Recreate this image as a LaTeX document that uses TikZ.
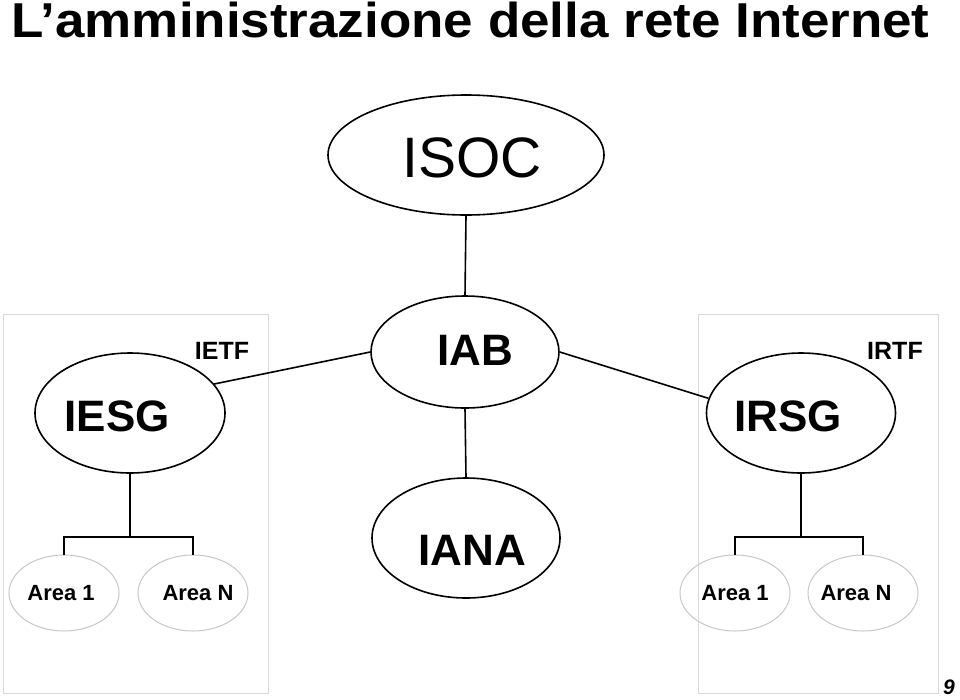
\documentclass[tikz,border=0pt]{standalone}
\usepackage{fontspec}
\setmainfont{Liberation Sans}
\usetikzlibrary{shapes.geometric}
\begin{document}
\begin{tikzpicture}[x=1pt,y=-1pt,
  bigell/.style={ellipse,draw=black,line width=1.6pt,inner sep=0pt},
  smallell/.style={ellipse,draw=black!22,line width=1pt,inner sep=0pt,minimum width=110pt,minimum height=76pt},
  conn/.style={line width=1.6pt,draw=black},
  grpbox/.style={draw=black!15,line width=1pt},
  bigtxt/.style={font=\fontsize{44}{44}\selectfont\bfseries,inner sep=0pt},
  areatxt/.style={font=\fontsize{22}{22}\selectfont\bfseries,inner sep=0pt},
  grptxt/.style={font=\fontsize{25}{25}\selectfont\bfseries,inner sep=0pt}]
\useasboundingbox (0,0) rectangle (960,699);
% title
\node[anchor=base west,inner sep=0pt,font=\fontsize{49}{49}\selectfont\bfseries] (title) at (11,37) {\scalebox{1.081}[1]{L’amministrazione della rete Internet}};
% group boxes
\draw[grpbox] (3,314) rectangle (268,693);
\draw[grpbox] (698,314) rectangle (938,693);
% main ellipses
\node[bigell,minimum width=276pt,minimum height=120pt] (isoc) at (466,155) {};
\node[inner sep=0pt,font=\fontsize{57}{57}\selectfont] (isoct) at (472,158) {ISOC};
\node[bigell,minimum width=188pt,minimum height=112pt] (iab) at (465,352) {};
\node[bigtxt] (iabt) at (475,350) {IAB};
\node[bigell,minimum width=188pt,minimum height=120pt] (iana) at (466,538) {};
\node[bigtxt] (ianat) at (472,550) {IANA};
\node[bigell,minimum width=190pt,minimum height=120pt] (iesg) at (130,413) {};
\node[bigtxt] (iesgt) at (117,416) {IESG};
\node[bigell,minimum width=189pt,minimum height=120pt] (irsg) at (801,413) {};
\node[bigtxt] (irsgt) at (788,416) {IRSG};
% group labels
\node[grptxt] (ietf) at (222,351) {IETF};
\node[grptxt] (irtf) at (895,351) {IRTF};
% area ellipses
\node[smallell] (la1) at (64,593) {};
\node[areatxt] (la1t) at (61,593) {Area 1};
\node[smallell] (lan) at (193,593) {};
\node[areatxt] (lant) at (198,593) {Area N};
\node[smallell] (ra1) at (735,593) {};
\node[areatxt] (ra1t) at (735,593) {Area 1};
\node[smallell] (ran) at (863,593) {};
\node[areatxt] (rant) at (856,593) {Area N};
% connectors
\draw[conn] (isoc.south) -- (iab.north);
\draw[conn] (iab.south) -- (iana.north);
\draw[conn] (iesg.19) -- (iab.west);
\draw[conn] (iab.east) -- (irsg.171);
\draw[conn] (iesg.south) -- (130,537) coordinate (lj);
\draw[conn] (la1.north) |- (lj) -| (lan.north);
\draw[conn] (irsg.south) -- (801,537) coordinate (rj);
\draw[conn] (ra1.north) |- (rj) -| (ran.north);
% page number
\node[anchor=base,inner sep=0pt,font=\fontsize{21}{21}\selectfont\bfseries\itshape] (pg) at (949,694) {9};
\end{tikzpicture}
\end{document}
